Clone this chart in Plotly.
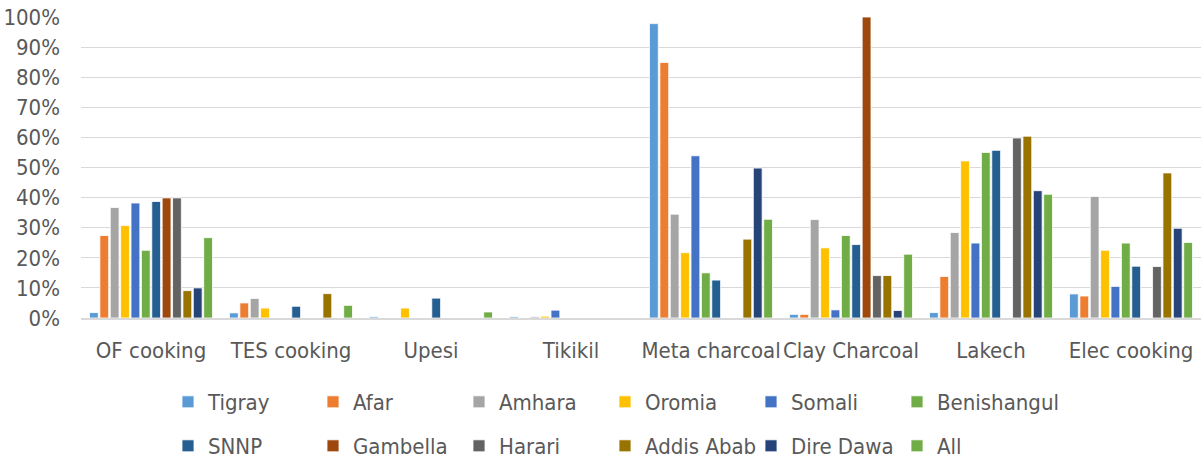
import plotly.graph_objects as go

# Share of households using each cooking technology, by region (%)
categories = ["OF cooking", "TES cooking", "Upesi", "Tikikil",
              "Meta charcoal", "Clay Charcoal", "Lakech", "Elec cooking"]

tigray      = [1.8, 1.7, 0.4, 0.4, 97.8, 1.2, 1.8, 8.0]
afar        = [27.4, 5.0, 0, 0, 84.9, 1.2, 13.8, 7.3]
amhara      = [36.7, 6.5, 0, 0.4, 34.5, 32.7, 28.4, 40.4]
oromia      = [30.7, 3.3, 3.3, 0.6, 21.7, 23.3, 52.2, 22.5]
somali      = [38.2, 0, 0, 2.6, 53.9, 2.7, 24.9, 10.5]
benishangul = [22.5, 0, 0, 0, 15.0, 27.4, 55.0, 24.9]
snnp        = [38.7, 3.9, 6.6, 0, 12.6, 24.4, 55.7, 17.2]
gambella    = [39.9, 0, 0, 0, 0, 100.0, 0, 0]
harari      = [39.9, 0, 0, 0, 0, 14.1, 59.8, 17.1]
addis_abab  = [9.1, 8.1, 0, 0, 26.2, 14.1, 60.4, 48.2]
dire_dawa   = [10.0, 0, 0, 0, 49.8, 2.5, 42.3, 29.8]
all_regions = [26.7, 4.2, 2.0, 0, 32.8, 21.2, 41.1, 25.1]

series_names = ["Tigray", "Afar", "Amhara", "Oromia", "Somali", "Benishangul",
                "SNNP", "Gambella", "Harari", "Addis Abab", "Dire Dawa", "All"]
series_values = [tigray, afar, amhara, oromia, somali, benishangul,
                 snnp, gambella, harari, addis_abab, dire_dawa, all_regions]
colors = ["#5B9BD5", "#ED7D31", "#A5A5A5", "#FFC000", "#4472C4", "#70AD47",
          "#255E91", "#9E480E", "#636363", "#997300", "#264478", "#70AD47"]

FONT = "Liberation Sans Narrow, DejaVu Sans Condensed, Arial Narrow, sans-serif"
TEXT = "#595959"
W, H = 1202, 459

# legend grid: 6 columns x 2 rows, one legend per entry
col_px = [168, 313, 459, 605, 751, 897]
row_px = [402, 446]

fig = go.Figure()
legends = {}
for i, (name, vals, col) in enumerate(zip(series_names, series_values, colors)):
    key = "legend" if i == 0 else f"legend{i + 1}"
    fig.add_trace(go.Bar(
        x=categories, y=vals, name=name,
        marker=dict(color=col, line=dict(color="white", width=0.8)),
        legend=key, showlegend=True,
    ))
    legends[key] = dict(
        orientation="h", xref="container", yref="container",
        x=col_px[i % 6] / W, y=1 - row_px[i // 6] / H,
        xanchor="left", yanchor="middle",
        font=dict(family=FONT, size=22, color=TEXT),
        bgcolor="rgba(0,0,0,0)", itemclick=False, itemdoubleclick=False,
    )

fig.update_layout(
    width=W, height=H,
    showlegend=True,
    margin=dict(l=81, r=1, t=17, b=141),
    paper_bgcolor="white", plot_bgcolor="white",
    barmode="group", bargap=0.11, bargroupgap=0.15,
    font=dict(family=FONT, size=22, color=TEXT),
    xaxis=dict(
        showgrid=False, showline=True, linecolor="#D9D9D9", linewidth=1.5,
        ticks="", tickfont=dict(family=FONT, size=22, color=TEXT),
        ticklabelstandoff=12,
    ),
    yaxis=dict(
        range=[0, 100], dtick=10, ticksuffix="%",
        showgrid=True, gridcolor="#D9D9D9", gridwidth=1.3,
        zeroline=False, showline=False, ticks="",
        tickfont=dict(family=FONT, size=22, color=TEXT),
        ticklabelstandoff=20,
    ),
    **legends,
)

fig.write_html("out.html")
